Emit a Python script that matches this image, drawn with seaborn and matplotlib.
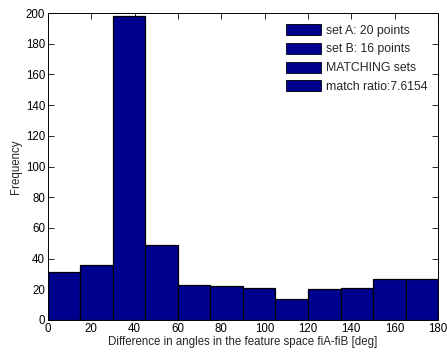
import matplotlib
matplotlib.use("Agg")
import matplotlib.pyplot as plt
import seaborn as sns
import numpy as np
from matplotlib.patches import Patch

# Histogram of angle differences, bins of 15 degrees
bin_edges = [0, 15, 30, 45, 60, 75, 90, 105, 120, 135, 150, 165, 180]
counts = [31, 36, 198, 49, 23, 22, 21, 14, 20, 21, 27, 27]
legend_labels = ["set A: 20 points", "set B: 16 points", "MATCHING sets", "match ratio:7.6154"]
x_ticks = [0, 20, 40, 60, 80, 100, 120, 140, 160, 180]
y_ticks = [0, 20, 40, 60, 80, 100, 120, 140, 160, 180, 200]

sns.set_style("ticks")
plt.rcParams["font.family"] = ["Liberation Sans", "DejaVu Sans"]
fs = 8.3

bar_color = "#00008F"

fig = plt.figure(figsize=(4.47, 3.53), dpi=100)
ax = fig.add_axes([0.107, 0.0935, 0.873, 0.8695])

centers = [(a + b) / 2 for a, b in zip(bin_edges[:-1], bin_edges[1:])]
sns.histplot(x=centers, weights=counts, bins=bin_edges, ax=ax,
             color=bar_color, alpha=1.0, edgecolor="black", linewidth=0.9)

ax.set_xlim(0, 180)
ax.set_ylim(0, 200)
ax.set_xticks(x_ticks)
ax.set_yticks(y_ticks)
ax.tick_params(direction="in", top=True, right=True, length=4, width=0.6,
               labelsize=fs, pad=2, colors="black")
for s in ax.spines.values():
    s.set_linewidth(0.7)
    s.set_color("black")
    s.set_visible(True)
ax.set_xlabel("Difference in angles in the feature space fiA-fiB [deg]", fontsize=fs, labelpad=1)
ax.set_ylabel("Frequency", fontsize=fs, labelpad=3)

handles = [Patch(facecolor=bar_color, edgecolor="black", linewidth=0.6) for _ in legend_labels]
ax.legend(handles, legend_labels, loc="upper right", frameon=False,
          handlelength=2.9, handleheight=1.0, handletextpad=0.35,
          labelspacing=0.5, fontsize=8.8, borderaxespad=0.5)

fig.savefig("out.png", dpi=100)
